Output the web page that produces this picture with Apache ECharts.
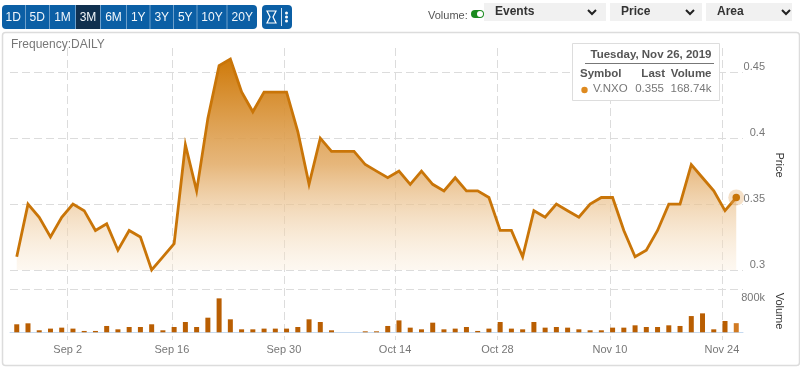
<!DOCTYPE html>
<html>
<head>
<meta charset="utf-8">
<style>html,body{margin:0;padding:0;background:#fff}#c{width:800px;height:368px}</style>
<script src="https://cdn.jsdelivr.net/npm/echarts@6/dist/echarts.min.js"></script>
</head>
<body>
<div id="c"></div>
<script>
const prices = [0.31,0.35,0.34,0.325,0.34,0.35,0.345,0.33,0.335,0.315,0.33,0.325,0.30,0.31,0.32,0.395,0.36,0.415,0.455,0.46,0.435,0.42,0.435,0.435,0.435,0.405,0.365,0.40,0.39,0.39,0.39,0.38,0.375,0.37,0.375,0.365,0.375,0.365,0.36,0.37,0.36,0.36,0.355,0.33,0.33,0.31,0.345,0.34,0.35,0.345,0.34,0.35,0.355,0.355,0.33,0.31,0.315,0.33,0.35,0.35,0.38,0.37,0.36,0.345,0.355];
const volumes = [148,166,37,68,86,68,25,25,117,55,98,98,148,37,98,190,98,270,627,240,55,55,68,68,68,98,240,190,37,0,0,18,18,117,220,86,55,178,55,68,98,25,68,190,68,55,190,86,98,86,55,37,37,86,86,129,98,98,129,117,300,350,55,209,168.74];
const dateTicks = [4.53,13.8,23.76,33.65,42.76,52.76,62.72];
const dateLabels = ['Sep 2','Sep 16','Sep 30','Oct 14','Oct 28','Nov 10','Nov 24'];
const priceTicks = [0.30,0.35,0.40,0.45];
const volumeTicks = [800];
const rangeButtons = ['1D','5D','1M','3M','6M','1Y','3Y','5Y','10Y','20Y'];
const rangeEdges = [[2,24.5],[26,48.5],[50,75],[76,100],[101,126],[127,149.5],[150.5,173],[174,196.5],[197.5,226.5],[227.5,257]];
const dropdowns = ['Events','Price','Area'];
const dropdownEdges = [[484,606,495,592],[610,702,621,690],[706,792,717,786]];

const FONT = '"Liberation Sans", Arial, sans-serif';
const grey = '#777', dash = {color:'#dcdcdc', type:[8,4], width:1};
const last = prices.length - 1;

function txt(text,x,y,font,fill,align){
  return {type:'text',z:50,style:{text,x,y,font:font+' '+FONT,fill,textAlign:align||'left',textVerticalAlign:'middle'}};
}
const g = [];
g.push({type:'rect',z:1,shape:{x:2.5,y:32.5,width:797,height:333,r:3},style:{fill:'none',stroke:'#dcdcdc',lineWidth:1.5}});
// range buttons
g.push({type:'rect',z:40,shape:{x:2,y:5,width:255,height:24,r:4},style:{fill:'#0b5fa5'}});
rangeButtons.forEach((b,i)=>{
  const [a,e]=rangeEdges[i];
  const active=b==='3M';
  if(active) g.push({type:'rect',z:41,shape:{x:a,y:5,width:e-a,height:24},style:{fill:'#10304f'}});
  if(i>0) g.push({type:'rect',z:41,shape:{x:a-1,y:5,width:1,height:24},style:{fill:'#6d9fcb'}});
  g.push(txt(b,(a+e)/2,17.5,'12px','#f2f7fb','center'));
});
// tool buttons
g.push({type:'rect',z:40,shape:{x:262,y:5,width:30,height:24,r:4},style:{fill:'#0b5fa5'}});
g.push({type:'polygon',z:42,shape:{points:[[267,11],[276,11],[273,17],[276,23],[267,23],[270,17]]},style:{fill:'none',stroke:'#fff',lineWidth:1.2}});
g.push({type:'rect',z:42,shape:{x:281,y:8,width:1,height:18},style:{fill:'#cfe0ef'}});
[13,17,21].forEach(y=>g.push({type:'circle',z:42,shape:{cx:286.5,cy:y,r:1.5},style:{fill:'#fff'}}));
// volume toggle
g.push(txt('Volume:',428,15.5,'11px','#555'));
g.push({type:'rect',z:42,shape:{x:471,y:10,width:13,height:8,r:4},style:{fill:'#1a8a1e'}});
g.push({type:'circle',z:43,shape:{cx:480,cy:14,r:3},style:{fill:'#fff'}});
// dropdowns
dropdowns.forEach((d,i)=>{
  const [a,e,t,c]=dropdownEdges[i];
  g.push({type:'rect',z:44,shape:{x:a,y:3,width:e-a,height:18},style:{fill:'#f1f1f1'}});
  g.push(txt(d,t,12,'bold 12px','#333'));
  g.push({type:'polyline',z:45,shape:{points:[[c-4,10],[c,14],[c+4,10]]},style:{fill:'none',stroke:'#222',lineWidth:2}});
});
g.push(txt('Frequency:DAILY',11,45,'12px',grey));
g.push({type:'text',z:50,x:779,y:165,rotation:-Math.PI/2,style:{text:'Price',font:'11px '+FONT,fill:'#333',textAlign:'center',textVerticalAlign:'middle'}});
g.push({type:'text',z:50,x:779,y:311,rotation:-Math.PI/2,style:{text:'Volume',font:'11px '+FONT,fill:'#333',textAlign:'center',textVerticalAlign:'middle'}});
// tooltip box
g.push({type:'rect',z:48,shape:{x:572.5,y:43.5,width:147,height:57},style:{fill:'#fff',stroke:'#dddddd',lineWidth:1}});
g.push(txt('Tuesday, Nov 26, 2019',711.5,55,'bold 11.5px','#555','right'));
g.push({type:'rect',z:50,shape:{x:585,y:63,width:129,height:1},style:{fill:'#777'}});
g.push(txt('Symbol',580,73.5,'bold 11.5px','#555'));
g.push(txt('Last',665,73.5,'bold 11.5px','#555','right'));
g.push(txt('Volume',711.5,73.5,'bold 11.5px','#555','right'));
g.push({type:'circle',z:50,shape:{cx:584.5,cy:90,r:3.2},style:{fill:'#de8a1f'}});
g.push(txt('V.NXO',593,89,'11.5px',grey));
g.push(txt('0.355',664,89,'11.5px',grey,'right'));
g.push(txt('168.74k',711.5,89,'11.5px',grey,'right'));

const chart = echarts.init(document.getElementById('c'));
chart.setOption({
  animation:false,
  backgroundColor:'#fff',
  textStyle:{fontFamily:FONT},
  graphic:g,
  grid:[
    {left:10,width:733,top:48,height:292},
    {left:10,width:733,top:289,height:43.3}
  ],
  xAxis:[
    {type:'value',gridIndex:0,min:-0.6,max:64.6,
      axisLine:{show:false},axisTick:{show:false,customValues:dateTicks},
      axisLabel:{customValues:dateTicks,margin:4,color:grey,fontSize:11,fontFamily:FONT,
        formatter:v=>{const k=dateTicks.findIndex(t=>Math.abs(t-v)<1e-6);return k<0?'':dateLabels[k];}},
      splitLine:{show:true,lineStyle:dash}},
    {type:'value',gridIndex:1,min:-0.6,max:64.6,
      axisLine:{show:true,onZero:false,lineStyle:{color:'#c6daf0',width:1}},
      axisTick:{show:false},axisLabel:{show:false},splitLine:{show:false}}
  ],
  yAxis:[
    {type:'value',gridIndex:0,position:'right',min:0.2469,max:0.4684,
      axisLine:{show:false},axisTick:{show:false,customValues:priceTicks},
      axisLabel:{customValues:priceTicks,inside:false,margin:22,align:'right',verticalAlign:'bottom',color:grey,fontSize:11,fontFamily:FONT,
        formatter:v=>String(+v.toFixed(2))},
      splitLine:{show:true,lineStyle:dash}},
    {type:'value',gridIndex:1,position:'right',min:0,max:800,
      axisLine:{show:false},axisTick:{show:false,customValues:volumeTicks},
      axisLabel:{customValues:volumeTicks,margin:22,align:'right',verticalAlign:'top',padding:[3,0,0,0],color:grey,fontSize:11,fontFamily:FONT,
        formatter:v=>v+'k'},
      splitLine:{show:true,lineStyle:dash}}
  ],
  series:[
    {type:'line',xAxisIndex:0,yAxisIndex:0,z:3,symbol:'none',
      data:prices.map((v,i)=>[i,v]),
      lineStyle:{color:'#c97508',width:2.8,join:'miter'},
      areaStyle:{origin:0.30,opacity:1,color:{type:'linear',x:0,y:0,x2:0,y2:1,colorStops:[
        {offset:0,color:'rgba(207,122,10,1)'},{offset:0.5,color:'rgba(226,170,100,0.85)'},{offset:1,color:'rgba(250,235,215,0.35)'}]}}},
    {type:'scatter',xAxisIndex:0,yAxisIndex:0,z:4,symbolSize:16,silent:true,
      data:[[last,prices[last]]],itemStyle:{color:'rgba(226,170,100,0.45)'}},
    {type:'scatter',xAxisIndex:0,yAxisIndex:0,z:5,symbolSize:7.5,silent:true,
      data:[[last,prices[last]]],itemStyle:{color:'#c97508',opacity:1}},
    {type:'bar',xAxisIndex:1,yAxisIndex:1,z:3,barWidth:5,
      data:volumes.map((v,i)=>({value:[i,v],itemStyle:{color:i===last?'#d17a22':'#b95e02'}}))}
  ]
});
</script>
</body>
</html>
